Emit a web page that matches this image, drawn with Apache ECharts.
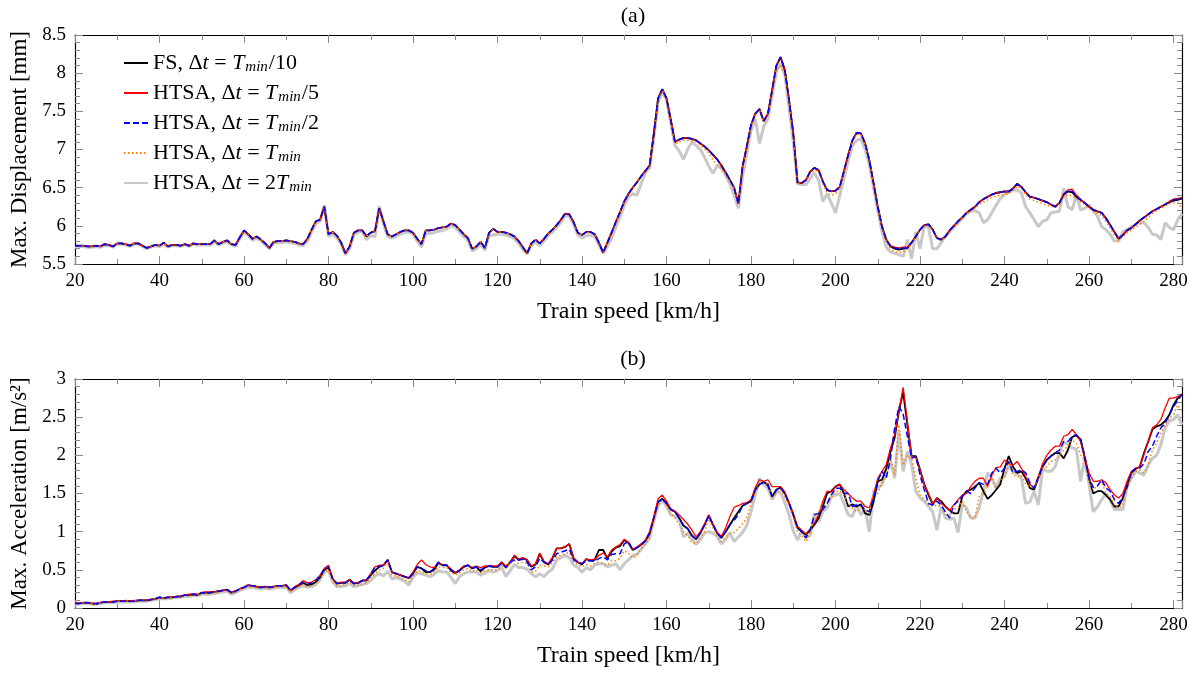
<!DOCTYPE html>
<html><head><meta charset="utf-8">
<script src="https://cdn.jsdelivr.net/npm/echarts/dist/echarts.min.js"></script>
<style>html,body{margin:0;padding:0;background:#fff}#c{width:1196px;height:677px}</style>
</head><body><div id="c"></div>
<script>
// ---------- DATA ----------
const speedStart = 20;   // km/h, step 1 km/h
const speedEnd = 282;
const xTickLabels = [20, 40, 60, 80, 100, 120, 140, 160, 180, 200, 220, 240, 260, 280];
const seriesNames = ['FS, Δt = Tmin/10', 'HTSA, Δt = Tmin/5', 'HTSA, Δt = Tmin/2', 'HTSA, Δt = Tmin', 'HTSA, Δt = 2Tmin'];

// (a) Max. displacement [mm]
const dispFS = [
5.74,5.74,5.74,5.73,5.73,5.74,5.73,5.76,5.75,5.73,
5.77,5.77,5.76,5.74,5.77,5.77,5.74,5.71,5.73,5.75,
5.74,5.78,5.73,5.75,5.75,5.74,5.76,5.74,5.77,5.76,
5.76,5.76,5.76,5.81,5.76,5.79,5.81,5.76,5.75,5.85,
5.94,5.89,5.83,5.86,5.82,5.77,5.71,5.79,5.80,5.80,
5.81,5.80,5.79,5.77,5.76,5.83,5.95,6.06,6.08,6.25,
5.89,5.92,5.87,5.78,5.64,5.73,5.91,5.94,5.94,5.86,
5.91,5.93,6.23,6.06,5.89,5.86,5.89,5.92,5.94,5.94,
5.91,5.83,5.76,5.94,5.94,5.95,5.97,5.98,5.99,6.03,
6.01,5.95,5.89,5.84,5.70,5.73,5.79,5.71,5.91,5.96,
5.92,5.92,5.91,5.89,5.86,5.80,5.72,5.64,5.77,5.82,
5.77,5.83,5.90,5.95,6.01,6.08,6.16,6.15,6.05,5.91,
5.88,5.92,5.92,5.89,5.78,5.65,5.78,5.91,6.05,6.18,
6.32,6.42,6.50,6.57,6.65,6.72,6.79,7.21,7.67,7.79,
7.67,7.39,7.10,7.13,7.15,7.15,7.14,7.12,7.08,7.04,
6.99,6.93,6.87,6.79,6.70,6.60,6.50,6.29,6.78,7.04,
7.32,7.47,7.53,7.37,7.47,7.78,8.10,8.21,8.04,7.65,
7.21,6.57,6.56,6.60,6.71,6.76,6.73,6.58,6.47,6.45,
6.46,6.51,6.72,6.93,7.12,7.22,7.21,7.08,6.86,6.56,
6.25,5.99,5.82,5.73,5.70,5.69,5.70,5.71,5.78,5.86,
5.95,6.01,6.02,5.95,5.84,5.82,5.86,5.94,6.00,6.06,
6.11,6.17,6.21,6.25,6.31,6.35,6.38,6.41,6.43,6.44,
6.45,6.45,6.49,6.55,6.51,6.44,6.38,6.37,6.35,6.33,
6.31,6.28,6.25,6.30,6.41,6.45,6.44,6.38,6.34,6.30,
6.25,6.21,6.19,6.17,6.10,6.01,5.92,5.83,5.88,5.94,
5.97,6.02,6.07,6.11,6.15,6.19,6.22,6.25,6.28,6.31,
6.33,6.34,6.36];
const dispH5 = [
5.74,5.74,5.74,5.73,5.73,5.74,5.73,5.76,5.75,5.73,
5.77,5.77,5.76,5.74,5.77,5.77,5.74,5.71,5.73,5.75,
5.74,5.78,5.73,5.75,5.75,5.74,5.76,5.74,5.77,5.76,
5.76,5.76,5.76,5.81,5.76,5.79,5.81,5.76,5.75,5.85,
5.94,5.89,5.83,5.86,5.82,5.77,5.71,5.79,5.80,5.80,
5.81,5.80,5.79,5.77,5.76,5.83,5.95,6.06,6.08,6.25,
5.89,5.92,5.87,5.78,5.64,5.73,5.91,5.94,5.94,5.87,
5.91,5.93,6.23,6.06,5.89,5.86,5.89,5.92,5.94,5.94,
5.91,5.83,5.76,5.94,5.94,5.95,5.97,5.98,5.99,6.03,
6.01,5.95,5.89,5.84,5.70,5.73,5.79,5.71,5.91,5.96,
5.92,5.92,5.91,5.89,5.86,5.80,5.72,5.64,5.77,5.82,
5.77,5.83,5.90,5.95,6.01,6.08,6.16,6.15,6.05,5.91,
5.88,5.92,5.92,5.89,5.78,5.65,5.78,5.91,6.05,6.18,
6.32,6.42,6.50,6.57,6.65,6.72,6.79,7.21,7.67,7.79,
7.67,7.39,7.10,7.13,7.15,7.15,7.14,7.12,7.08,7.04,
6.99,6.93,6.87,6.79,6.70,6.60,6.50,6.29,6.78,7.04,
7.32,7.47,7.53,7.37,7.47,7.78,8.10,8.21,8.04,7.65,
7.21,6.57,6.56,6.60,6.71,6.76,6.73,6.58,6.47,6.45,
6.46,6.51,6.72,6.93,7.12,7.22,7.21,7.08,6.86,6.56,
6.25,5.99,5.82,5.74,5.72,5.71,5.72,5.72,5.78,5.86,
5.95,6.01,6.02,5.95,5.84,5.82,5.86,5.94,6.00,6.06,
6.11,6.17,6.21,6.25,6.31,6.35,6.38,6.41,6.43,6.44,
6.45,6.45,6.49,6.55,6.51,6.44,6.38,6.37,6.35,6.33,
6.31,6.28,6.25,6.30,6.42,6.47,6.48,6.40,6.35,6.30,
6.25,6.21,6.19,6.17,6.10,6.01,5.92,5.84,5.88,5.94,
5.97,6.02,6.07,6.11,6.15,6.19,6.22,6.25,6.28,6.32,
6.35,6.36,6.37];
const dispH2 = [
5.74,5.74,5.74,5.73,5.73,5.74,5.73,5.76,5.75,5.73,
5.77,5.77,5.76,5.74,5.77,5.77,5.74,5.71,5.73,5.75,
5.74,5.78,5.73,5.75,5.75,5.74,5.76,5.74,5.77,5.76,
5.76,5.76,5.76,5.81,5.76,5.79,5.81,5.76,5.75,5.85,
5.94,5.89,5.83,5.86,5.82,5.77,5.71,5.79,5.80,5.80,
5.81,5.80,5.79,5.77,5.76,5.83,5.95,6.06,6.08,6.25,
5.89,5.92,5.87,5.78,5.64,5.73,5.91,5.94,5.94,5.87,
5.91,5.93,6.23,6.06,5.89,5.86,5.89,5.92,5.94,5.94,
5.91,5.83,5.76,5.94,5.94,5.95,5.97,5.98,5.99,6.03,
6.01,5.95,5.89,5.84,5.70,5.73,5.79,5.71,5.91,5.96,
5.92,5.92,5.91,5.89,5.86,5.80,5.72,5.64,5.77,5.82,
5.77,5.83,5.90,5.95,6.01,6.08,6.16,6.15,6.05,5.91,
5.88,5.92,5.92,5.89,5.78,5.65,5.78,5.91,6.05,6.18,
6.32,6.42,6.50,6.57,6.65,6.72,6.79,7.21,7.67,7.79,
7.67,7.39,7.10,7.13,7.15,7.15,7.14,7.12,7.08,7.04,
6.99,6.93,6.87,6.79,6.70,6.60,6.50,6.29,6.78,7.04,
7.32,7.47,7.53,7.37,7.47,7.78,8.10,8.21,8.04,7.65,
7.21,6.57,6.56,6.60,6.71,6.76,6.73,6.58,6.47,6.45,
6.46,6.51,6.72,6.93,7.12,7.22,7.21,7.08,6.86,6.56,
6.25,5.99,5.82,5.73,5.71,5.70,5.71,5.71,5.78,5.86,
5.95,6.01,6.02,5.95,5.84,5.82,5.86,5.94,6.00,6.06,
6.11,6.17,6.21,6.25,6.31,6.35,6.38,6.41,6.43,6.44,
6.45,6.45,6.49,6.55,6.51,6.44,6.38,6.37,6.35,6.33,
6.31,6.28,6.25,6.30,6.41,6.46,6.45,6.39,6.34,6.30,
6.25,6.21,6.19,6.17,6.10,6.01,5.92,5.83,5.88,5.94,
5.97,6.02,6.07,6.11,6.15,6.19,6.22,6.25,6.28,6.31,
6.34,6.35,6.36];
const dispH1 = [
5.74,5.74,5.74,5.73,5.73,5.74,5.73,5.76,5.75,5.73,
5.77,5.77,5.76,5.74,5.77,5.77,5.74,5.71,5.73,5.75,
5.74,5.78,5.73,5.75,5.75,5.74,5.76,5.74,5.77,5.76,
5.76,5.76,5.76,5.81,5.76,5.79,5.81,5.76,5.75,5.85,
5.93,5.89,5.83,5.86,5.82,5.77,5.71,5.79,5.80,5.80,
5.81,5.80,5.79,5.77,5.76,5.83,5.95,6.05,6.08,6.24,
5.89,5.91,5.87,5.78,5.64,5.73,5.90,5.94,5.93,5.86,
5.90,5.92,6.21,6.06,5.89,5.86,5.89,5.92,5.94,5.94,
5.91,5.83,5.76,5.93,5.94,5.95,5.97,5.98,5.99,6.02,
6.01,5.95,5.89,5.84,5.70,5.73,5.79,5.71,5.90,5.95,
5.92,5.92,5.91,5.89,5.86,5.80,5.72,5.64,5.77,5.82,
5.77,5.83,5.90,5.95,6.01,6.08,6.15,6.14,6.05,5.91,
5.88,5.91,5.91,5.89,5.78,5.65,5.77,5.90,6.04,6.17,
6.31,6.41,6.49,6.56,6.64,6.71,6.78,7.20,7.66,7.77,
7.66,7.37,7.07,7.10,7.12,7.12,7.11,7.10,7.06,7.01,
6.95,6.86,6.80,6.75,6.67,6.58,6.48,6.28,6.76,7.02,
7.30,7.45,7.51,7.36,7.45,7.75,8.05,8.10,7.98,7.62,
7.19,6.56,6.55,6.59,6.69,6.73,6.71,6.56,6.43,6.40,
6.42,6.49,6.70,6.91,7.10,7.20,7.19,7.06,6.85,6.55,
6.24,5.98,5.80,5.70,5.66,5.65,5.66,5.69,5.77,5.85,
5.94,6.00,6.01,5.94,5.83,5.81,5.85,5.93,5.99,6.05,
6.10,6.16,6.20,6.23,6.28,6.31,6.34,6.37,6.39,6.40,
6.41,6.42,6.46,6.52,6.49,6.41,6.35,6.33,6.31,6.29,
6.27,6.26,6.24,6.28,6.37,6.41,6.39,6.35,6.31,6.28,
6.23,6.19,6.16,6.13,6.06,5.97,5.88,5.80,5.86,5.91,
5.94,5.98,6.02,6.06,6.11,6.16,6.20,6.23,6.26,6.29,
6.30,6.30,6.22];
const dispH05 = [
5.73,5.73,5.73,5.72,5.72,5.73,5.72,5.74,5.74,5.72,
5.76,5.76,5.75,5.73,5.76,5.76,5.73,5.70,5.72,5.74,
5.73,5.76,5.72,5.74,5.74,5.73,5.75,5.73,5.76,5.75,
5.75,5.75,5.75,5.79,5.75,5.77,5.79,5.75,5.73,5.83,
5.91,5.87,5.81,5.84,5.80,5.75,5.70,5.77,5.78,5.78,
5.79,5.78,5.77,5.75,5.74,5.80,5.92,6.03,6.06,6.27,
5.86,5.89,5.84,5.76,5.62,5.70,5.88,5.92,5.92,5.82,
5.87,5.86,6.26,6.02,5.86,5.84,5.86,5.89,5.91,5.92,
5.89,5.80,5.72,5.90,5.90,5.91,5.93,5.94,5.96,6.00,
5.98,5.92,5.86,5.81,5.67,5.70,5.76,5.68,5.87,5.88,
5.89,5.89,5.88,5.86,5.83,5.77,5.69,5.63,5.74,5.79,
5.74,5.80,5.87,5.92,5.98,6.05,6.13,6.13,6.02,5.88,
5.84,5.87,5.88,5.86,5.75,5.64,5.73,5.84,5.98,6.12,
6.26,6.38,6.42,6.40,6.55,6.70,6.76,7.15,7.62,7.75,
7.65,7.35,7.05,6.98,6.87,7.00,7.10,7.05,7.00,6.90,
6.78,6.69,6.79,6.75,6.66,6.55,6.40,6.23,6.65,6.95,
7.25,7.40,7.08,7.30,7.40,7.70,8.02,8.12,7.98,7.55,
7.10,6.55,6.54,6.54,6.62,6.69,6.60,6.32,6.42,6.30,
6.17,6.40,6.62,6.85,7.05,7.12,7.14,7.00,6.80,6.50,
6.20,5.92,5.72,5.66,5.64,5.62,5.60,5.82,5.57,5.92,
5.70,6.00,5.98,5.70,5.70,5.78,5.86,5.92,5.98,6.04,
6.10,6.16,6.19,6.20,6.17,6.04,6.08,6.17,6.27,6.36,
6.41,6.44,6.47,6.47,6.43,6.25,6.17,6.08,5.99,6.06,
6.08,6.17,6.18,6.19,6.49,6.25,6.21,6.41,6.21,6.23,
6.27,6.20,6.12,5.99,5.95,5.89,5.80,5.80,5.92,5.95,
5.99,6.02,6.04,6.04,5.98,5.89,5.88,5.82,6.04,5.98,
5.95,6.08,6.16];

// (b) Max. acceleration [m/s²]
const accFS = [
0.06,0.06,0.07,0.07,0.06,0.05,0.07,0.08,0.08,0.08,
0.09,0.09,0.09,0.09,0.09,0.10,0.10,0.10,0.11,0.12,
0.14,0.13,0.14,0.14,0.15,0.15,0.17,0.17,0.18,0.17,
0.20,0.20,0.20,0.21,0.22,0.23,0.24,0.20,0.22,0.25,
0.27,0.30,0.29,0.28,0.27,0.28,0.27,0.28,0.29,0.29,
0.30,0.23,0.27,0.30,0.33,0.30,0.31,0.34,0.40,0.50,
0.53,0.38,0.32,0.33,0.33,0.37,0.32,0.33,0.36,0.36,
0.43,0.49,0.54,0.56,0.63,0.47,0.45,0.43,0.41,0.39,
0.45,0.54,0.52,0.47,0.47,0.50,0.59,0.56,0.56,0.49,
0.46,0.49,0.54,0.56,0.52,0.54,0.48,0.53,0.55,0.54,
0.54,0.60,0.53,0.60,0.68,0.63,0.65,0.63,0.54,0.57,
0.71,0.60,0.57,0.65,0.78,0.78,0.80,0.84,0.65,0.60,
0.57,0.64,0.62,0.63,0.76,0.76,0.65,0.74,0.79,0.81,
0.89,0.85,0.76,0.79,0.83,0.88,0.98,1.18,1.39,1.43,
1.37,1.29,1.26,1.18,1.08,1.04,0.95,0.90,0.98,1.09,
1.21,1.09,0.98,0.92,1.00,1.09,1.18,1.26,1.34,1.37,
1.40,1.55,1.62,1.65,1.62,1.46,1.55,1.58,1.50,1.37,
1.22,1.05,1.00,0.96,1.02,1.09,1.18,1.33,1.50,1.53,
1.59,1.62,1.50,1.33,1.36,1.33,1.36,1.24,1.22,1.39,
1.66,1.68,1.83,2.05,2.23,2.58,2.83,2.40,1.99,1.99,
1.81,1.62,1.48,1.36,1.44,1.40,1.33,1.28,1.24,1.24,
1.46,1.53,1.55,1.59,1.64,1.53,1.43,1.48,1.55,1.62,
1.83,1.99,1.85,1.77,1.79,1.70,1.57,1.55,1.70,1.85,
1.94,1.99,2.03,2.03,1.96,2.07,2.24,2.26,2.21,1.96,
1.70,1.50,1.53,1.53,1.48,1.42,1.33,1.33,1.44,1.62,
1.77,1.82,1.85,2.03,2.18,2.34,2.38,2.40,2.45,2.53,
2.66,2.75,2.80];
const accH5 = [
0.06,0.07,0.07,0.07,0.06,0.06,0.07,0.08,0.08,0.09,
0.09,0.09,0.10,0.09,0.10,0.10,0.10,0.11,0.11,0.12,
0.14,0.13,0.14,0.15,0.15,0.16,0.17,0.18,0.18,0.18,
0.20,0.21,0.21,0.21,0.22,0.23,0.24,0.21,0.22,0.25,
0.27,0.30,0.29,0.28,0.27,0.28,0.27,0.28,0.29,0.29,
0.30,0.23,0.28,0.31,0.36,0.33,0.34,0.37,0.43,0.52,
0.56,0.38,0.32,0.34,0.34,0.37,0.33,0.33,0.36,0.37,
0.45,0.54,0.56,0.56,0.63,0.47,0.45,0.43,0.41,0.40,
0.47,0.57,0.63,0.57,0.54,0.53,0.60,0.56,0.56,0.51,
0.46,0.50,0.55,0.56,0.53,0.55,0.53,0.55,0.55,0.55,
0.55,0.60,0.55,0.60,0.69,0.64,0.66,0.63,0.55,0.58,
0.72,0.61,0.58,0.66,0.78,0.78,0.80,0.84,0.66,0.60,
0.58,0.64,0.63,0.64,0.69,0.72,0.67,0.76,0.80,0.83,
0.90,0.86,0.77,0.80,0.84,0.89,1.00,1.20,1.43,1.48,
1.40,1.30,1.27,1.22,1.16,1.10,1.02,0.93,1.00,1.10,
1.22,1.10,0.99,0.94,1.05,1.20,1.32,1.34,1.37,1.38,
1.42,1.58,1.68,1.66,1.68,1.59,1.59,1.59,1.52,1.38,
1.24,1.07,1.02,0.97,1.04,1.12,1.22,1.40,1.53,1.52,
1.59,1.62,1.55,1.50,1.44,1.40,1.40,1.33,1.31,1.48,
1.70,1.79,1.88,2.09,2.27,2.58,2.89,2.45,1.99,1.97,
1.81,1.62,1.50,1.37,1.44,1.37,1.33,1.28,1.35,1.42,
1.48,1.50,1.59,1.66,1.70,1.70,1.59,1.74,1.84,1.85,
1.94,1.89,1.87,1.92,1.83,1.72,1.62,1.57,1.72,1.89,
2.00,2.07,2.12,2.12,2.25,2.27,2.34,2.27,2.18,1.96,
1.77,1.66,1.66,1.68,1.64,1.55,1.48,1.44,1.50,1.66,
1.79,1.83,1.85,2.01,2.18,2.36,2.40,2.47,2.62,2.75,
2.75,2.77,2.80];
const accH2 = [
0.06,0.06,0.07,0.07,0.06,0.06,0.07,0.08,0.08,0.08,
0.09,0.09,0.09,0.09,0.09,0.10,0.10,0.10,0.11,0.12,
0.14,0.13,0.14,0.14,0.15,0.15,0.17,0.17,0.18,0.17,
0.20,0.20,0.20,0.21,0.22,0.23,0.24,0.20,0.22,0.25,
0.27,0.30,0.29,0.28,0.27,0.28,0.27,0.28,0.29,0.29,
0.30,0.23,0.27,0.30,0.34,0.31,0.33,0.36,0.42,0.51,
0.54,0.38,0.32,0.33,0.33,0.37,0.32,0.32,0.36,0.37,
0.44,0.54,0.54,0.56,0.63,0.47,0.45,0.43,0.41,0.39,
0.45,0.54,0.52,0.49,0.47,0.52,0.60,0.56,0.56,0.50,
0.46,0.49,0.54,0.56,0.52,0.54,0.50,0.53,0.55,0.54,
0.54,0.58,0.53,0.60,0.63,0.63,0.64,0.60,0.50,0.54,
0.65,0.60,0.57,0.63,0.71,0.73,0.75,0.77,0.63,0.60,
0.58,0.62,0.62,0.61,0.65,0.67,0.63,0.70,0.71,0.71,
0.84,0.87,0.76,0.79,0.83,0.88,0.98,1.18,1.39,1.43,
1.37,1.29,1.26,1.18,1.08,1.04,0.95,0.90,0.98,1.09,
1.21,1.09,0.98,0.92,1.00,1.09,1.15,1.22,1.34,1.37,
1.40,1.55,1.62,1.65,1.60,1.46,1.55,1.58,1.50,1.37,
1.22,1.05,1.00,0.92,1.02,1.22,1.24,1.29,1.37,1.48,
1.57,1.57,1.50,1.50,1.33,1.35,1.35,1.29,1.26,1.44,
1.66,1.79,1.70,1.96,2.36,2.64,2.54,2.25,1.96,1.99,
1.74,1.55,1.37,1.35,1.40,1.35,1.26,1.18,1.35,1.40,
1.46,1.53,1.50,1.57,1.64,1.62,1.62,1.77,1.83,1.77,
1.83,1.92,1.77,1.79,1.81,1.77,1.64,1.57,1.72,1.85,
1.94,1.99,2.03,2.07,2.18,2.18,2.25,2.27,2.21,1.99,
1.70,1.58,1.60,1.68,1.57,1.53,1.42,1.37,1.46,1.58,
1.77,1.83,1.83,1.89,2.05,2.12,2.25,2.36,2.42,2.53,
2.64,2.72,2.80];
const accH1 = [
0.06,0.06,0.07,0.07,0.06,0.05,0.07,0.08,0.08,0.08,
0.09,0.09,0.09,0.09,0.09,0.10,0.10,0.10,0.11,0.12,
0.13,0.13,0.13,0.14,0.15,0.15,0.16,0.16,0.17,0.17,
0.19,0.19,0.19,0.20,0.21,0.22,0.23,0.19,0.21,0.24,
0.26,0.28,0.28,0.27,0.26,0.27,0.26,0.27,0.28,0.28,
0.28,0.21,0.25,0.28,0.31,0.28,0.29,0.32,0.38,0.48,
0.50,0.36,0.28,0.30,0.31,0.34,0.29,0.30,0.31,0.33,
0.40,0.45,0.50,0.52,0.60,0.43,0.42,0.40,0.37,0.34,
0.42,0.49,0.48,0.45,0.44,0.47,0.54,0.53,0.53,0.47,
0.43,0.46,0.50,0.52,0.48,0.50,0.46,0.49,0.50,0.50,
0.50,0.55,0.52,0.58,0.62,0.58,0.60,0.58,0.47,0.48,
0.56,0.55,0.54,0.60,0.67,0.69,0.71,0.73,0.60,0.57,
0.54,0.57,0.55,0.59,0.60,0.58,0.56,0.62,0.62,0.65,
0.75,0.72,0.65,0.70,0.78,0.84,0.92,1.14,1.35,1.42,
1.35,1.24,1.18,1.10,1.00,0.95,0.86,0.85,0.92,1.00,
1.17,1.05,0.95,0.87,0.93,0.98,0.99,1.04,1.10,1.18,
1.36,1.52,1.62,1.65,1.62,1.44,1.50,1.55,1.46,1.34,
1.18,1.00,0.95,0.87,0.96,1.22,1.26,1.31,1.37,1.44,
1.53,1.53,1.48,1.37,1.31,1.26,1.33,1.29,1.24,1.50,
1.50,1.64,1.72,1.96,1.74,2.40,1.87,2.00,1.96,1.70,
1.48,1.42,1.36,1.33,1.35,1.33,1.22,1.22,1.29,1.31,
1.40,1.26,1.18,1.18,1.46,1.50,1.59,1.70,1.57,1.66,
1.72,1.92,1.74,1.72,1.74,1.62,1.59,1.57,1.68,1.83,
1.85,1.92,1.94,1.99,2.07,2.12,2.20,2.16,2.01,1.92,
1.66,1.55,1.60,1.66,1.50,1.46,1.35,1.31,1.35,1.58,
1.70,1.79,1.81,1.77,1.87,2.07,2.16,2.29,2.40,2.49,
2.53,2.66,2.58];
const accH05 = [
0.05,0.05,0.06,0.06,0.05,0.05,0.06,0.07,0.07,0.07,
0.08,0.08,0.08,0.08,0.08,0.09,0.09,0.09,0.10,0.11,
0.12,0.12,0.12,0.13,0.14,0.14,0.15,0.15,0.16,0.16,
0.18,0.18,0.18,0.19,0.20,0.21,0.22,0.18,0.20,0.23,
0.25,0.27,0.27,0.26,0.25,0.26,0.25,0.26,0.27,0.27,
0.27,0.20,0.24,0.27,0.29,0.27,0.28,0.31,0.37,0.47,
0.49,0.34,0.28,0.28,0.29,0.32,0.28,0.29,0.31,0.32,
0.36,0.42,0.45,0.42,0.48,0.38,0.40,0.38,0.35,0.30,
0.40,0.46,0.45,0.43,0.41,0.44,0.49,0.47,0.47,0.40,
0.32,0.41,0.45,0.47,0.47,0.47,0.43,0.46,0.49,0.47,
0.49,0.53,0.41,0.49,0.57,0.53,0.53,0.51,0.45,0.41,
0.45,0.41,0.47,0.51,0.63,0.66,0.69,0.66,0.56,0.53,
0.47,0.53,0.50,0.56,0.58,0.58,0.54,0.56,0.58,0.50,
0.58,0.63,0.69,0.70,0.77,0.84,0.92,1.14,1.34,1.41,
1.33,1.22,1.20,1.16,0.93,0.98,0.90,0.83,0.90,0.98,
1.00,0.98,0.93,0.84,0.90,0.98,0.87,0.93,0.99,1.08,
1.26,1.48,1.70,1.62,1.57,1.42,1.52,1.52,1.38,1.22,
1.01,0.89,1.00,0.92,0.96,1.24,1.13,1.26,1.31,1.46,
1.48,1.50,1.37,1.22,1.20,1.36,1.22,1.29,1.00,1.53,
1.57,1.62,1.77,1.92,1.70,2.31,1.79,2.05,1.88,1.53,
1.44,1.40,1.33,1.26,1.02,1.33,1.18,1.16,1.18,0.99,
1.36,1.31,1.18,1.18,1.31,1.53,1.77,1.70,1.57,1.70,
1.72,1.87,1.79,1.75,1.70,1.37,1.39,1.53,1.35,1.83,
1.79,1.79,1.85,2.03,2.18,2.14,2.10,2.08,1.66,1.96,
1.62,1.26,1.33,1.42,1.50,1.42,1.29,1.29,1.29,1.58,
1.70,1.79,1.77,1.74,1.87,1.96,2.00,2.14,2.36,2.45,
2.47,2.53,2.40];

// ---------- CHART ----------
const F = 'Liberation Serif';
function pairs(vals) { return vals.map((v, i) => [speedStart + i, v]); }

const legendRich = {
  'FS, Δt = Tmin/10': '{n|FS, Δ}{i|t}{n| = }{i|T}{s|min}{n|/10}',
  'HTSA, Δt = Tmin/5': '{n|HTSA, Δ}{i|t}{n| = }{i|T}{s|min}{n|/5}',
  'HTSA, Δt = Tmin/2': '{n|HTSA, Δ}{i|t}{n| = }{i|T}{s|min}{n|/2}',
  'HTSA, Δt = Tmin': '{n|HTSA, Δ}{i|t}{n| = }{i|T}{s|min}',
  'HTSA, Δt = 2Tmin': '{n|HTSA, Δ}{i|t}{n| = 2}{i|T}{s|min}'
};

const styles = [
  {color: '#000000', width: 1.8, type: 'solid', z: 3},
  {color: '#ff0000', width: 1.3, type: 'solid', z: 4},
  {color: '#0000ff', width: 1.5, type: [6, 3], z: 6},
  {color: '#ff8000', width: 1.5, type: [1.5, 2.5], z: 5},
  {color: '#c8c8c8', width: 3, type: 'solid', z: 2}
];
const topData = [dispFS, dispH5, dispH2, dispH1, dispH05];
const botData = [accFS, accH5, accH2, accH1, accH05];

const series = [];
[topData, botData].forEach((set, g) => {
  set.forEach((vals, k) => {
    const s = styles[k];
    series.push({
      name: seriesNames[k], type: 'line', xAxisIndex: g * 2, yAxisIndex: g * 2,
      data: pairs(vals), symbol: 'none', z: s.z, animation: false,
      lineStyle: {color: s.color, width: s.width, type: s.type},
      itemStyle: {color: s.color}
    });
  });
});

const tickStyle = {show: true, inside: true, length: 8, lineStyle: {color: '#888', width: 1}};
const minorStyle = (n) => ({show: true, splitNumber: n, length: 5, lineStyle: {color: '#888', width: 1}});
const axLine = {show: true, onZero: false, lineStyle: {color: '#000', width: 1.2}};

function xAxes(grid) {
  return [
    {type: 'value', gridIndex: grid, position: 'bottom', min: 20, max: 282, interval: 20,
     axisLine: axLine, axisTick: tickStyle, minorTick: minorStyle(2), splitLine: {show: false},
     axisLabel: {show: true, fontFamily: F, fontSize: 19, color: '#000', margin: 8,
       formatter: v => (xTickLabels.indexOf(v) >= 0 ? String(v) : '')},
     name: 'Train speed [km/h]', nameLocation: 'middle', nameGap: 36,
     nameTextStyle: {fontFamily: F, fontSize: 24, color: '#000'}},
    {type: 'value', gridIndex: grid, position: 'top', min: 20, max: 282, interval: 20,
     axisLine: axLine, axisTick: tickStyle, minorTick: minorStyle(2), splitLine: {show: false},
     axisLabel: {show: false}}
  ];
}
function yAxes(grid, min, max, name) {
  return [
    {type: 'value', gridIndex: grid, position: 'left', min: min, max: max, interval: 0.5,
     axisLine: axLine, axisTick: tickStyle, minorTick: minorStyle(5), splitLine: {show: false},
     axisLabel: {fontFamily: F, fontSize: 19, color: '#000', margin: 9},
     name: name, nameLocation: 'middle', nameGap: 44,
     nameTextStyle: {fontFamily: F, fontSize: 23, color: '#000'}},
    {type: 'value', gridIndex: grid, position: 'right', min: min, max: max, interval: 0.5,
     axisLine: axLine, axisTick: tickStyle, minorTick: minorStyle(5), splitLine: {show: false},
     axisLabel: {show: false}}
  ];
}

const option = {
  backgroundColor: '#fff',
  animation: false,
  title: [
    {text: '(a)', left: 628, top: 0, textAlign: 'center', textStyle: {fontFamily: F, fontSize: 22, fontWeight: 'normal', color: '#000'}},
    {text: '(b)', left: 628, top: 343, textAlign: 'center', textStyle: {fontFamily: F, fontSize: 22, fontWeight: 'normal', color: '#000'}}
  ],
  grid: [
    {left: 75, right: 14, top: 35, height: 229},
    {left: 75, right: 14, top: 379, height: 229}
  ],
  legend: {
    show: true, orient: 'vertical', left: 118, top: 46, itemWidth: 24, itemHeight: 12, itemGap: 6,
    data: seriesNames,
    itemStyle: {opacity: 0},
    formatter: name => legendRich[name],
    textStyle: {
      fontFamily: F, fontSize: 22, color: '#000',
      rich: {
        n: {fontFamily: F, fontSize: 22, color: '#000', lineHeight: 23},
        i: {fontFamily: F, fontSize: 22, fontStyle: 'italic', color: '#000', lineHeight: 23},
        s: {fontFamily: F, fontSize: 15, fontStyle: 'italic', color: '#000', padding: [9, 1, 0, 1], lineHeight: 23}
      }
    }
  },
  xAxis: [...xAxes(0), ...xAxes(1)],
  yAxis: [...yAxes(0, 5.5, 8.5, 'Max. Displacement [mm]'), ...yAxes(1, 0, 3, 'Max. Acceleration [m/s²]')],
  series: series
};

const chart = echarts.init(document.getElementById('c'), null, {renderer: 'canvas'});
chart.setOption(option);
</script>
</body></html>
